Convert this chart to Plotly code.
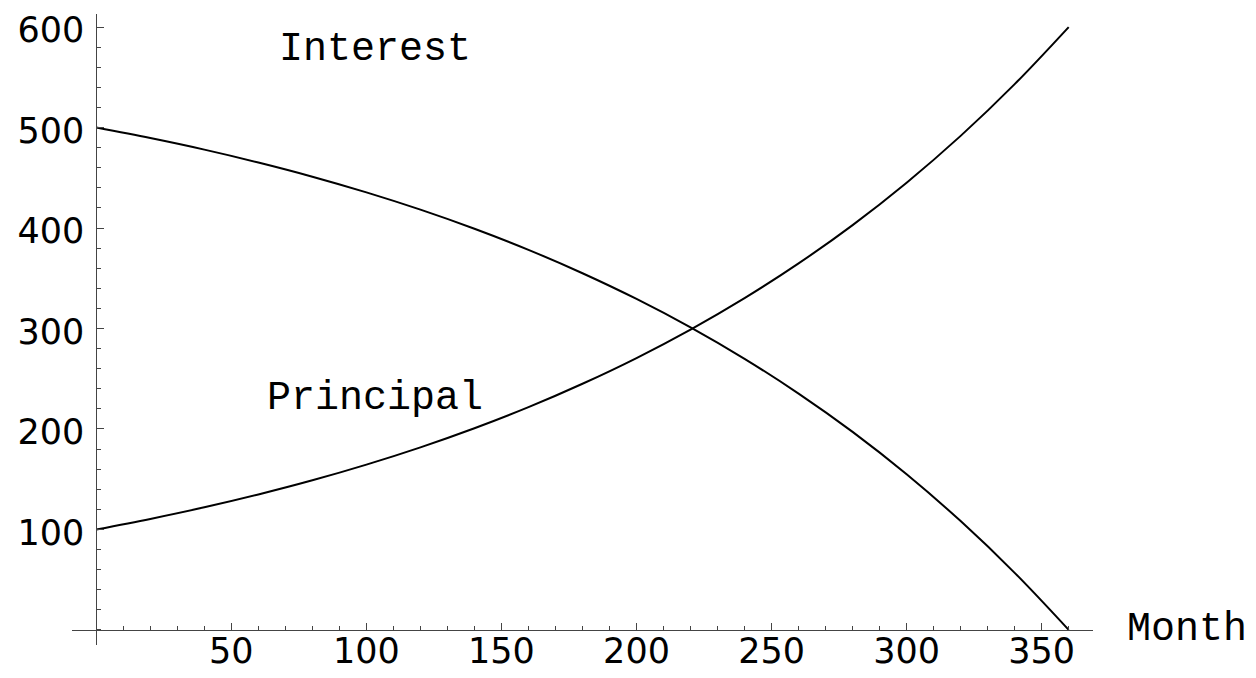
import plotly.graph_objects as go

# Data (monthly payment split over a 360-month loan)
months = [0, 20, 40, 60, 80, 100, 120, 140, 160, 180, 200, 220, 240, 260, 280, 300, 320, 340, 360]
principal = [100.0, 110.5, 122.0, 134.8, 148.9, 164.5, 181.7, 200.7, 221.7, 245.0, 270.6,
             298.9, 330.2, 364.8, 402.9, 445.1, 491.7, 543.2, 600.0]
interest = [500.0, 489.5, 478.0, 465.2, 451.1, 435.5, 418.3, 399.3, 378.3, 355.0, 329.4,
            301.1, 269.8, 235.2, 197.1, 154.9, 108.3, 56.8, 0.0]

x_tick_vals = [50, 100, 150, 200, 250, 300, 350]
y_tick_vals = [100, 200, 300, 400, 500, 600]

X_RANGE = [-9, 369]
Y_RANGE = [-15, 613]

fig = go.Figure()
fig.add_trace(go.Scatter(x=months, y=interest, mode="lines", name="Interest",
                         line=dict(color="black", width=2, shape="spline"), hoverinfo="skip"))
fig.add_trace(go.Scatter(x=months, y=principal, mode="lines", name="Principal",
                         line=dict(color="black", width=2, shape="spline"), hoverinfo="skip"))

tick_font = dict(family="DejaVu Sans", size=35, color="black")
axis_color = "#444444"

# page body has an 8px margin, so the figure is 16px smaller than the window
fig.update_layout(
    width=1240, height=662,
    margin=dict(l=64, r=155, t=6, b=25),
    plot_bgcolor="white", paper_bgcolor="white",
    showlegend=False,
)

fig.update_xaxes(
    range=X_RANGE, anchor="free", automargin=False,
    position=(0 - Y_RANGE[0]) / (Y_RANGE[1] - Y_RANGE[0]),
    showline=True, linecolor=axis_color, linewidth=1,
    showgrid=False, zeroline=False,
    ticks="inside", ticklen=7, tickwidth=1, tickcolor=axis_color,
    tickvals=x_tick_vals, tickfont=tick_font, ticklabelstandoff=-10,
    ticklabeloverflow="allow",
    minor=dict(tick0=0, dtick=10, ticks="inside", ticklen=4, tickwidth=1,
               tickcolor=axis_color, showgrid=False),
)
fig.update_yaxes(
    range=Y_RANGE, anchor="free", automargin=False,
    position=(0 - X_RANGE[0]) / (X_RANGE[1] - X_RANGE[0]),
    showline=True, linecolor=axis_color, linewidth=1,
    showgrid=False, zeroline=False,
    ticks="inside", ticklen=7, tickwidth=1, tickcolor=axis_color,
    tickvals=y_tick_vals, tickfont=tick_font, ticklabelstandoff=5,
    ticklabelshift=3, ticklabeloverflow="allow",
    minor=dict(tick0=0, dtick=20, ticks="inside", ticklen=4, tickwidth=1,
               tickcolor=axis_color, showgrid=False),
)

label_font = dict(family="Liberation Mono", size=40, color="black")
fig.add_annotation(x=103, y=578, xref="x", yref="y", text="Interest",
                   showarrow=False, font=label_font, xanchor="center", yanchor="middle")
fig.add_annotation(x=103, y=230, xref="x", yref="y", text="Principal",
                   showarrow=False, font=label_font, xanchor="center", yanchor="middle")
fig.add_annotation(x=1.031, y=0, xref="paper", yref="y", text="Month",
                   showarrow=False, font=label_font, xanchor="left", yanchor="middle")

fig.write_html("out.html")
